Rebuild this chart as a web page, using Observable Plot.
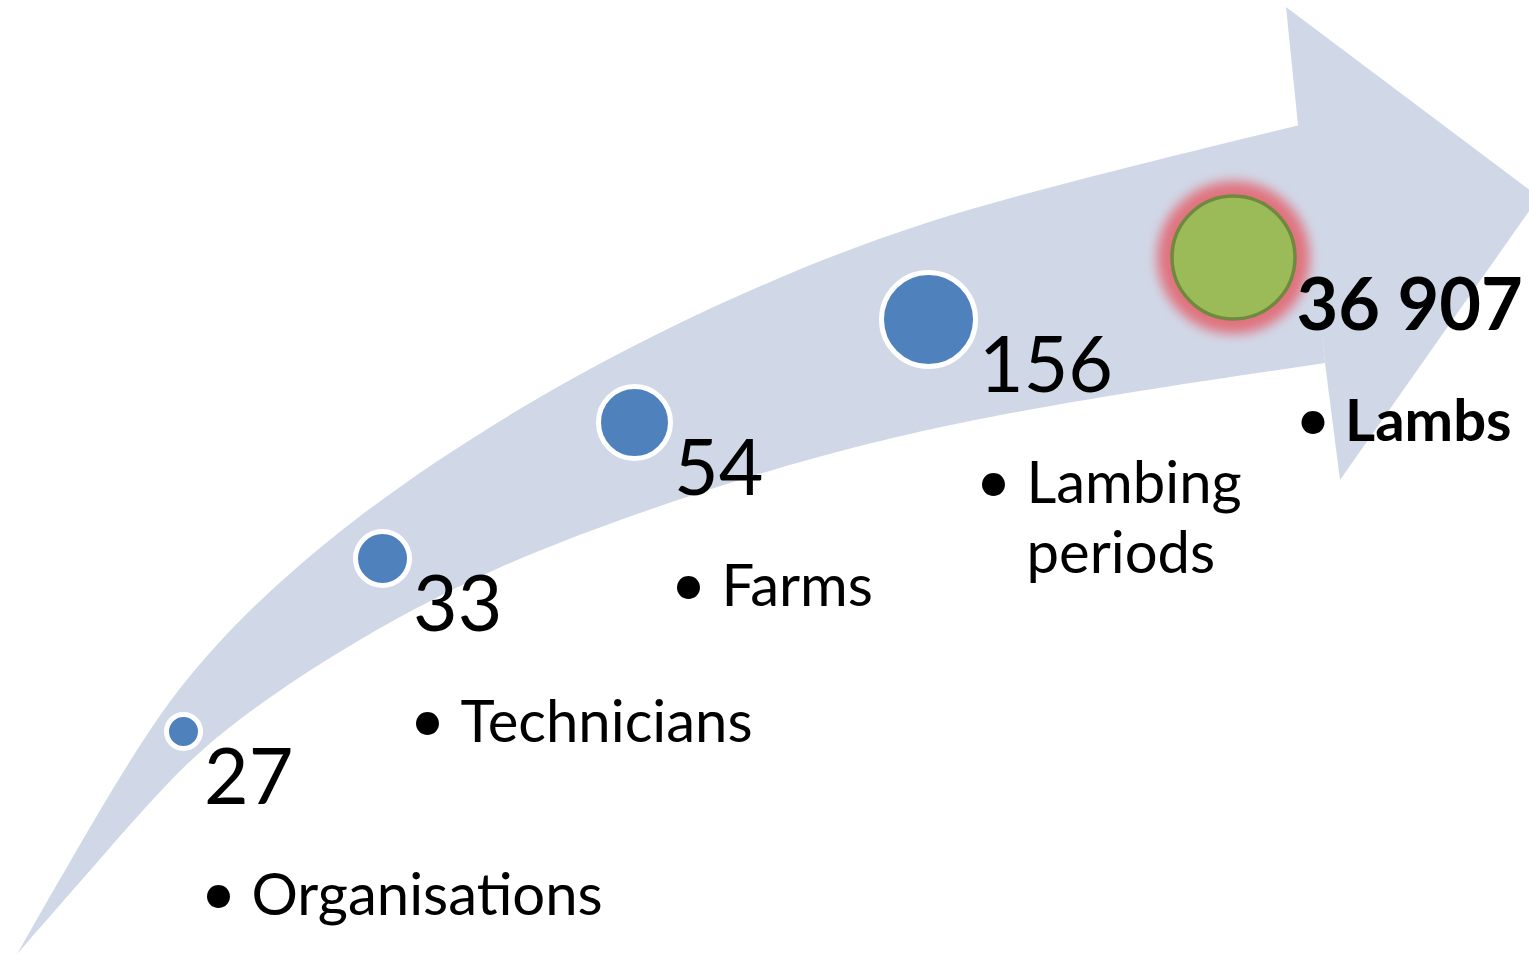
<!DOCTYPE html>
<html>
<head>
<meta charset="utf-8">
<script src="https://cdn.jsdelivr.net/npm/d3@7"></script>
<script src="https://cdn.jsdelivr.net/npm/@observablehq/plot@0.6"></script>
<style>
  html, body { margin: 0; padding: 0; background: #fff; overflow: hidden; }
  #chart svg { display: block; }
</style>
</head>
<body>
<div id="chart"></div>
<script>
// ---- data ----
const categories = ["Organisations", "Technicians", "Farms", "Lambing periods", "Lambs"];
const values = [27, 33, 54, 156, 36907];
const valueLabels = ["27", "33", "54", "156", "36 907"];
const highlight = [false, false, false, false, true];

// ---- layout (pixel frame of the infographic) ----
const stepX = [183, 382, 634, 928, 1233];
const stepY = [731, 558, 422, 319, 257];
const stepR = [17, 27, 36, 47, 61.5];

// arrow body outline: upper and lower edges
const arrowTopX = [17, 99, 148, 207, 340, 573, 850, 1046, 1300];
const arrowTopY = [954, 811, 731, 650, 523, 370, 243, 187, 125];
const arrowBottomX = [17, 100, 190, 265, 340, 486, 700, 940, 1325];
const arrowBottomY = [954, 859, 756, 700, 650, 568, 490, 420, 363];
// arrow head outline
const headTopX = [1298, 1286, 1539];
const headTopY = [125, 7, 197];
const headBottomX = [1325, 1340, 1539];
const headBottomY = [363, 480, 197];

const steps = categories.map((c, i) => ({
  label: c, value: values[i], text: valueLabels[i],
  x: stepX[i], y: stepY[i], r: stepR[i], hi: highlight[i]
}));
const body = arrowTopX.map((x, i) => ({x1: x, y1: arrowTopY[i], x2: arrowBottomX[i], y2: arrowBottomY[i]}));
const head = headTopX.map((x, i) => ({x1: x, y1: headTopY[i], x2: headBottomX[i], y2: headBottomY[i]}));

const NUM_FS = 77, BOLD_FS = 72, LAB_FS = 58, LINE_PX = 70;
const edge = d => d.x + d.r;
const numX = d => edge(d) + (d.hi ? 1.5 : 3.5);
const numY = d => d.y + 72;
const labLines = d => d.label.replace(" ", "\n");
const labY = d => numY(d) + 111 + (labLines(d).split("\n").length - 1) * LINE_PX;

const chart = Plot.plot({
  width: 1529,
  height: 955,
  margin: 0,
  x: {domain: [0, 1529], range: [0, 1529], axis: null},
  y: {domain: [0, 955], range: [0, 955], axis: null},
  r: {type: "identity"},
  style: {fontFamily: "Lato, 'Open Sans', sans-serif", background: "#fff", overflow: "hidden", color: "#000"},
  marks: [
    Plot.area(body, {x1: "x1", y1: "y1", x2: "x2", y2: "y2", curve: "basis", fill: "#d0d8e8"}),
    Plot.area(head, {x1: "x1", y1: "y1", x2: "x2", y2: "y2", curve: "linear", fill: "#d0d8e8"}),
    Plot.dot(steps.filter(d => d.hi), {x: "x", y: "y", r: d => d.r + 15, fill: "#e0737f"}),
    Plot.dot(steps.filter(d => !d.hi), {x: "x", y: "y", r: "r", fill: "#4f81bd", stroke: "#ffffff", strokeWidth: 5}),
    Plot.dot(steps.filter(d => d.hi), {x: "x", y: "y", r: "r", fill: "#9bbb59", stroke: "#71893f", strokeWidth: 3.5}),
    Plot.text(steps.filter(d => !d.hi), {x: numX, y: numY, text: "text", textAnchor: "start", lineAnchor: "bottom", fontSize: NUM_FS, fill: "#000"}),
    Plot.text(steps.filter(d => d.hi), {x: numX, y: numY, text: "text", textAnchor: "start", lineAnchor: "bottom", fontSize: BOLD_FS, fontWeight: "bold", fill: "#000"}),
    Plot.text(steps, {x: d => edge(d) + 18, y: d => numY(d) + 111, text: () => "\u2022", textAnchor: "middle", lineAnchor: "bottom", fontSize: 62, fill: "#000"}),
    Plot.text(steps.filter(d => !d.hi), {x: d => edge(d) + 51, y: labY, text: labLines, textAnchor: "start", lineAnchor: "bottom", lineHeight: LINE_PX / LAB_FS, fontSize: LAB_FS, fill: "#000"}),
    Plot.text(steps.filter(d => d.hi), {x: d => edge(d) + 50, y: labY, text: labLines, textAnchor: "start", lineAnchor: "bottom", fontSize: LAB_FS, fontWeight: "bold", fill: "#000"})
  ]
});

const svg = d3.select(chart);
const defs = svg.insert("defs", ":first-child");
const f = defs.append("filter").attr("id", "glowBlur").attr("x", "-50%").attr("y", "-50%").attr("width", "200%").attr("height", "200%");
f.append("feGaussianBlur").attr("stdDeviation", 6);
svg.selectAll('g[aria-label="dot"]').filter((d, i) => i === 0).attr("filter", "url(#glowBlur)");

document.getElementById("chart").appendChild(chart);
</script>
</body>
</html>
